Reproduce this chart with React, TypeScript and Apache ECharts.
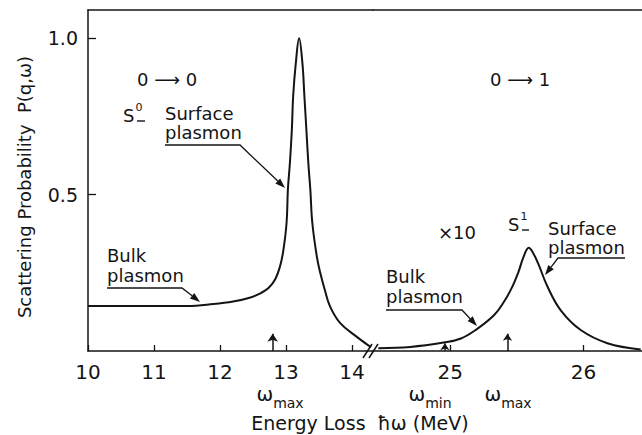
import React, { useEffect, useRef } from "react";
import * as echarts from "echarts";

// ---- data ----
// 0 -> 0 transition (left panel), energy loss in MeV
const leftEnergy = [10.0, 10.5, 11.0, 11.5, 11.9, 12.2, 12.45, 12.62, 12.74, 12.84, 12.91, 12.96, 13.01, 13.03, 13.06, 13.09, 13.11, 13.15, 13.2, 13.25, 13.28, 13.31, 13.34, 13.37, 13.4, 13.47, 13.52, 13.59, 13.67, 13.82, 14.07, 14.29];
const leftProb = [0.144, 0.144, 0.144, 0.144, 0.15, 0.158, 0.17, 0.185, 0.202, 0.23, 0.27, 0.32, 0.41, 0.516, 0.6, 0.708, 0.815, 0.92, 1.0, 0.92, 0.815, 0.708, 0.6, 0.516, 0.41, 0.3, 0.25, 0.195, 0.142, 0.09, 0.046, 0.012];
// 0 -> 1 transition (right panel, shown x10)
const rightEnergy = [24.46, 24.7, 24.95, 25.08, 25.2, 25.33, 25.4, 25.46, 25.51, 25.55, 25.59, 25.62, 25.66, 25.73, 25.83, 25.98, 26.18, 26.43];
const rightProb = [0.009, 0.013, 0.027, 0.04, 0.07, 0.115, 0.155, 0.2, 0.25, 0.3, 0.33, 0.315, 0.28, 0.206, 0.13, 0.067, 0.025, 0.005];

const leftTicks = [10, 11, 12, 13, 14];
const rightTicks = [25, 26];
const yTicks = [0.5, 1.0];
const leftRange = [10, 14.32];
const rightRange = [24.42, 26.44];
const yRange = [0, 1.09];

const omegaMaxLeft = 12.8;
const omegaMinRight = 24.96;
const omegaMaxRight = 25.43;

const INK = "#141414";
const FONT = "DejaVu Sans";

function leader(points: number[][]) {
  const n = points.length;
  const [x2, y2] = points[n - 1];
  const [x1, y1] = points[n - 2];
  const len = Math.hypot(x2 - x1, y2 - y1);
  const dx = (x2 - x1) / len;
  const dy = (y2 - y1) / len;
  const L = 10;
  const W = 3.5;
  const bx = x2 - dx * L;
  const by = y2 - dy * L;
  return [
    {
      type: "polyline",
      shape: { points: points.slice(0, n - 1).concat([[bx, by]]) },
      style: { stroke: INK, lineWidth: 1.3, fill: null },
      silent: true,
    },
    {
      type: "polygon",
      shape: {
        points: [
          [x2, y2],
          [bx - dy * W, by + dx * W],
          [bx + dy * W, by - dx * W],
        ],
      },
      style: { fill: INK },
      silent: true,
    },
  ];
}

function txt(text: string, x: number, y: number, size = 18, align = "left") {
  return {
    type: "text",
    x,
    y,
    silent: true,
    style: {
      text,
      fill: INK,
      font: `${size}px "${FONT}"`,
      align,
      verticalAlign: "middle",
    },
  };
}

// S with a small raised index, e.g. S^0 (the underline is drawn as a line)
function sIndex(idx: string, x: number, y: number) {
  return {
    type: "text",
    x,
    y,
    silent: true,
    style: {
      text: `{b|S}{i|${idx}}`,
      align: "left",
      verticalAlign: "middle",
      fill: INK,
      rich: {
        b: { fontFamily: FONT, fontSize: 18, lineHeight: 22, verticalAlign: "bottom", fill: INK },
        i: { fontFamily: FONT, fontSize: 11, lineHeight: 22, verticalAlign: "top", fill: INK, padding: [0, 0, 0, 1] },
      },
    },
  };
}

function hline(x1: number, x2: number, y: number) {
  return { type: "line", shape: { x1, y1: y, x2, y2: y }, style: { stroke: INK, lineWidth: 1.4 }, silent: true };
}

function omega(sub: string, cx: number, y: number) {
  return {
    type: "text",
    x: cx,
    y,
    silent: true,
    style: {
      text: `{w|ω}{s|${sub}}`,
      align: "center",
      verticalAlign: "middle",
      fill: INK,
      rich: {
        w: { fontFamily: FONT, fontSize: 20, lineHeight: 26, verticalAlign: "top", fill: INK },
        s: { fontFamily: FONT, fontSize: 14, lineHeight: 26, verticalAlign: "bottom", fill: INK },
      },
    },
  };
}

function arrowLine(x: number, h: number) {
  return [
    { coord: [x, 0], symbol: "none" },
    { coord: [x, h], symbol: "arrow" },
  ];
}

export default function App() {
  const ref = useRef<HTMLDivElement>(null);
  useEffect(() => {
    if (!ref.current) return;
    const chart = echarts.init(ref.current, null, { renderer: "svg" });
    const axisLine = { show: true, lineStyle: { color: INK, width: 1.5 } };
    const tickStyle = { lineStyle: { color: INK, width: 1.3 } };
    const labelStyle = { color: INK, fontFamily: FONT, fontSize: 20 };

    const graphic: any[] = [
      txt("0 ⟶ 0", 137, 79),
      txt("0 ⟶ 1", 490, 79),
      sIndex("0", 123, 113),
      hline(137, 145, 121),
      txt("Surface", 165, 113),
      txt("plasmon", 165, 132),
      txt("Bulk", 107, 255),
      txt("plasmon", 107, 275),
      txt("×10", 438, 232),
      sIndex("1", 508, 222),
      hline(522, 529, 230),
      txt("Surface", 548, 228),
      txt("plasmon", 548, 247),
      txt("Bulk", 386, 276),
      txt("plasmon", 386, 296),
      ...leader([[165, 145], [240, 145], [285, 188]]),
      ...leader([[107, 288], [182, 288], [200, 302]]),
      ...leader([[386, 310], [462, 310], [477, 326]]),
      ...leader([[625, 258], [558, 258], [545, 275]]),
      omega("max", 280, 397),
      omega("min", 430, 397),
      omega("max", 508, 397),
      txt("Energy Loss  ħω (MeV)", 360, 423, 19, "center"),
      {
        type: "text",
        x: 24,
        y: 187,
        rotation: Math.PI / 2,
        silent: true,
        style: {
          text: "Scattering Probability  P(q,ω)",
          fill: INK,
          font: `18px "${FONT}"`,
          align: "center",
          verticalAlign: "middle",
        },
      },
      // axis break marks
      { type: "line", shape: { x1: 363, y1: 358, x2: 372, y2: 344 }, style: { stroke: INK, lineWidth: 1.5 }, silent: true },
      { type: "line", shape: { x1: 369, y1: 358, x2: 378, y2: 344 }, style: { stroke: INK, lineWidth: 1.5 }, silent: true },
    ];

    chart.setOption({
      animation: false,
      backgroundColor: "#ffffff",
      grid: [
        { left: 88, top: 10, width: 285, bottom: 84 },
        { left: 373, top: 10, right: 0, bottom: 84 },
      ],
      xAxis: [
        {
          type: "value", gridIndex: 0, min: leftRange[0], max: leftRange[1],
          axisLine, splitLine: { show: false },
          axisTick: { show: true, inside: true, length: 6, customValues: leftTicks, ...tickStyle },
          axisLabel: { ...labelStyle, margin: 11, customValues: leftTicks },
        },
        {
          type: "value", gridIndex: 1, min: rightRange[0], max: rightRange[1],
          axisLine, splitLine: { show: false },
          axisTick: { show: true, inside: true, length: 6, customValues: rightTicks, ...tickStyle },
          axisLabel: { ...labelStyle, margin: 11, customValues: rightTicks },
        },
        {
          type: "value", gridIndex: 0, position: "top", min: leftRange[0], max: leftRange[1],
          axisLine, splitLine: { show: false }, axisTick: { show: false }, axisLabel: { show: false },
        },
        {
          type: "value", gridIndex: 1, position: "top", min: rightRange[0], max: rightRange[1],
          axisLine, splitLine: { show: false }, axisTick: { show: false }, axisLabel: { show: false },
        },
      ],
      yAxis: [
        {
          type: "value", gridIndex: 0, min: yRange[0], max: yRange[1],
          axisLine, splitLine: { show: false },
          axisTick: { show: true, inside: true, length: 8, customValues: yTicks, ...tickStyle },
          axisLabel: { ...labelStyle, fontSize: 19, margin: 10, customValues: yTicks, formatter: (v: number) => v.toFixed(1) },
        },
        {
          type: "value", gridIndex: 1, min: yRange[0], max: yRange[1], show: false,
        },
      ],
      series: [
        {
          type: "line", xAxisIndex: 0, yAxisIndex: 0,
          data: leftEnergy.map((e, i) => [e, leftProb[i]]),
          showSymbol: false, smooth: 0.4,
          lineStyle: { color: INK, width: 2 },
          silent: true,
          markLine: {
            silent: true, symbolSize: 8, label: { show: false },
            lineStyle: { color: INK, width: 1.5, type: "solid" },
            data: [arrowLine(omegaMaxLeft, 0.055)],
          },
        },
        {
          type: "line", xAxisIndex: 1, yAxisIndex: 1,
          data: rightEnergy.map((e, i) => [e, rightProb[i]]),
          showSymbol: false, smooth: 0.4,
          lineStyle: { color: INK, width: 2 },
          silent: true,
          markLine: {
            silent: true, symbolSize: 7, label: { show: false },
            lineStyle: { color: INK, width: 1.5, type: "solid" },
            data: [arrowLine(omegaMinRight, 0.025), arrowLine(omegaMaxRight, 0.055)],
          },
        },
      ],
      graphic,
    });
    return () => chart.dispose();
  }, []);
  return (
    <div
      ref={ref}
      style={{ position: "fixed", left: 0, top: 0, width: 642, height: 435, background: "#fff" }}
    />
  );
}
